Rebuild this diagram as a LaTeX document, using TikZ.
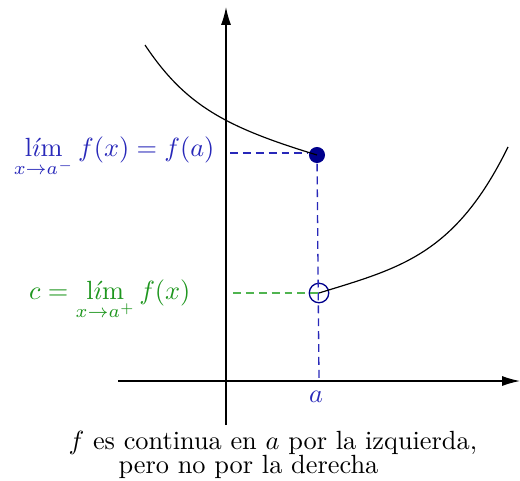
\documentclass[tikz,border=0pt]{standalone}
\usepackage{amsmath}
\usetikzlibrary{arrows.meta}
\definecolor{lblue}{RGB}{40,40,185}
\definecolor{dotblue}{RGB}{0,0,140}
\definecolor{lgreen}{RGB}{30,150,30}
\definecolor{dgreen}{RGB}{80,180,80}
\newcommand{\mylim}{\mathop{\mathrm{l\acute{\imath}m}}\limits}
\begin{document}
\begin{tikzpicture}[x=0.38pt,y=-0.38pt,
  axis/.style={-{Latex[length=6.8pt,width=3.8pt]}, line width=0.5pt},
  bdash/.style={lblue, line width=0.5pt, dash pattern=on 3pt off 1.9pt},
  gdash/.style={dgreen, line width=0.6pt, dash pattern=on 3pt off 1.9pt},
  curve/.style={line width=0.45pt},
  lbl/.style={inner sep=0pt}]
\useasboundingbox (0,0) rectangle (520,480);
% axes
\coordinate (ybot) at (226,425);
\coordinate (ytop) at (226,7);
\coordinate (xl) at (118,381);
\coordinate (xr) at (520,381);
\draw[axis] (ybot) -- (ytop);
\draw[axis] (xl) -- (xr);
% points
\node[circle, fill=dotblue, inner sep=0pt, minimum size=6.1pt] (P) at (317,155) {};
\node[circle, draw=dotblue, inner sep=0pt, minimum size=7.4pt, line width=0.5pt] (Q) at (319,293) {};
\coordinate (A) at (319,381);
\coordinate (yP) at (230,153);
\coordinate (yQ) at (233,293);
% dashed lines
\draw[bdash] (yP) -- (P.west |- yP);
\draw[bdash] (P) -- (A);
\draw[gdash] (yQ) -- (Q.center);
% curves
\draw[curve] (145,45) .. controls (185,105) and (225,127) .. (P.center);
\draw[curve] (Q.center) .. controls (400,268) and (455,255) .. (508,147);
% labels
\node[lbl, text=lblue] (la) at (316,397) {$a$};
\node[lbl, text=lblue, anchor=east] (lleft) at (215,157) {$\displaystyle\mylim_{x\to a^-} f(x)=f(a)$};
\node[lbl, text=lgreen, anchor=east] (lright) at (191,300) {$\displaystyle c=\mylim_{x\to a^+} f(x)$};
\node[lbl, anchor=base west] (cap1) at (68,449) {$f$ es continua en $a$ por la izquierda,};
\node[lbl, anchor=base west] (cap2) at (118,473) {pero no por la derecha};
\end{tikzpicture}
\end{document}
